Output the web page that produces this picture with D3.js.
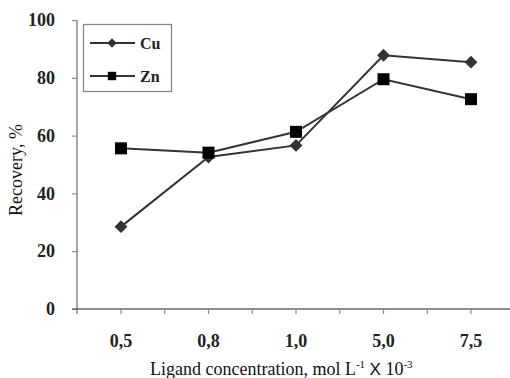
<!DOCTYPE html>
<html>
<head>
<meta charset="utf-8">
<script src="https://cdn.jsdelivr.net/npm/d3@7"></script>
<style>
  html, body { margin: 0; padding: 0; background: #fff; }
  svg { display: block; }
</style>
</head>
<body>
<svg id="chart" width="510" height="378"></svg>
<script>
const categories = ["0,5", "0,8", "1,0", "5,0", "7,5"];
const cuValues = [28.5, 52.6, 56.6, 87.8, 85.4];
const znValues = [55.6, 54.1, 61.3, 79.5, 72.6];
const yTicks = [0, 20, 40, 60, 80, 100];
const seriesNames = ["Cu", "Zn"];

const svg = d3.select("#chart");
const serif = "'Liberation Serif', 'Times New Roman', serif";

const x = d3.scaleBand().domain(categories).range([77.25, 514.75]);
const y = d3.scaleLinear().domain([0, 100]).range([309, 20]);

const axisColor = "#8a8a8a";

// Y axis
const yAxis = svg.append("g").attr("transform", "translate(77,0)")
  .call(d3.axisLeft(y).tickValues(yTicks).tickSize(5).tickPadding(17).tickFormat(d3.format("d")));
yAxis.select(".domain").attr("stroke", axisColor).attr("stroke-width", 1.5)
  .attr("d", `M0,${y(100)}V${y(0) + 5}`);
yAxis.selectAll(".tick line").attr("stroke", axisColor).attr("stroke-width", 1.2);
yAxis.selectAll(".tick text")
  .attr("font-family", serif).attr("font-weight", "bold").attr("font-size", 18)
  .attr("fill", "#222");

// X axis with ticks at band edges and centers
const tickPositions = [];
categories.forEach(c => {
  tickPositions.push(x(c));
  tickPositions.push(x(c) + x.bandwidth() / 2);
});
const xg = svg.append("g").attr("transform", `translate(0,${y(0)})`);
xg.append("line").attr("x1", 72).attr("x2", 510).attr("y1", 0).attr("y2", 0)
  .attr("stroke", "#6a6a6a").attr("stroke-width", 1.5);
xg.selectAll("line.tk").data(tickPositions.slice(1)).enter().append("line")
  .attr("class", "tk")
  .attr("x1", d => d).attr("x2", d => d).attr("y1", 0).attr("y2", 5)
  .attr("stroke", axisColor).attr("stroke-width", 1.2);
xg.selectAll("text.xl").data(categories).enter().append("text")
  .attr("class", "xl")
  .attr("x", d => x(d) + x.bandwidth() / 2)
  .attr("y", 38)
  .attr("text-anchor", "middle")
  .attr("font-family", serif).attr("font-weight", "bold").attr("font-size", 18)
  .attr("fill", "#222")
  .text(d => d);

// Axis titles
const xt = svg.append("text")
  .attr("x", 150).attr("y", 375)
  .attr("font-family", serif).attr("font-size", 18).attr("fill", "#111");
xt.append("tspan").text("Ligand concentration, mol L");
xt.append("tspan").attr("font-size", 11).attr("dy", -7).text("-1");
xt.append("tspan").attr("dy", 7).text(" ");
xt.append("tspan").attr("font-family", "'Liberation Sans', Arial, sans-serif").attr("font-size", 17).text("X");
xt.append("tspan").text(" 10");
xt.append("tspan").attr("font-size", 11).attr("dy", -7).text("-3");

svg.append("text")
  .attr("transform", "translate(22,170) rotate(-90)")
  .attr("text-anchor", "middle")
  .attr("font-family", serif).attr("font-size", 18).attr("fill", "#111")
  .text("Recovery, %");

// Lines
const lineGen = d3.line()
  .x((d, i) => x(categories[i]) + x.bandwidth() / 2)
  .y(d => y(d));

const lineColor = "#333";
svg.append("path").datum(cuValues).attr("d", lineGen)
  .attr("fill", "none").attr("stroke", lineColor).attr("stroke-width", 2);
svg.append("path").datum(znValues).attr("d", lineGen)
  .attr("fill", "none").attr("stroke", lineColor).attr("stroke-width", 2);

const diamond = d3.symbol().type(d3.symbolDiamond2).size(105)();
const square = d3.symbol().type(d3.symbolSquare).size(144)();

svg.selectAll("path.cu").data(cuValues).enter().append("path")
  .attr("class", "cu").attr("d", diamond)
  .attr("transform", (d, i) => `translate(${x(categories[i]) + x.bandwidth() / 2},${y(d)})`)
  .attr("fill", "#333");
svg.selectAll("path.zn").data(znValues).enter().append("path")
  .attr("class", "zn").attr("d", square)
  .attr("transform", (d, i) => `translate(${x(categories[i]) + x.bandwidth() / 2},${y(d)})`)
  .attr("fill", "#000");

// Legend
const lg = svg.append("g");
lg.append("rect").attr("x", 83.5).attr("y", 24.5).attr("width", 88).attr("height", 67)
  .attr("fill", "#fff").attr("stroke", "#888").attr("stroke-width", 1.3);
const legendY = [43, 76];
const legendSym = [d3.symbol().type(d3.symbolDiamond2).size(55)(), d3.symbol().type(d3.symbolSquare).size(70)()];
const legendFill = ["#333", "#000"];
seriesNames.forEach((name, i) => {
  lg.append("line").attr("x1", 90).attr("x2", 135).attr("y1", legendY[i]).attr("y2", legendY[i])
    .attr("stroke", lineColor).attr("stroke-width", 1.8);
  lg.append("path").attr("d", legendSym[i]).attr("transform", `translate(112,${legendY[i]})`)
    .attr("fill", legendFill[i]);
  lg.append("text").attr("x", 140).attr("y", legendY[i] + 5.5)
    .attr("font-family", serif).attr("font-weight", "bold").attr("font-size", 16)
    .attr("fill", "#222").text(name);
});
</script>
</body>
</html>
